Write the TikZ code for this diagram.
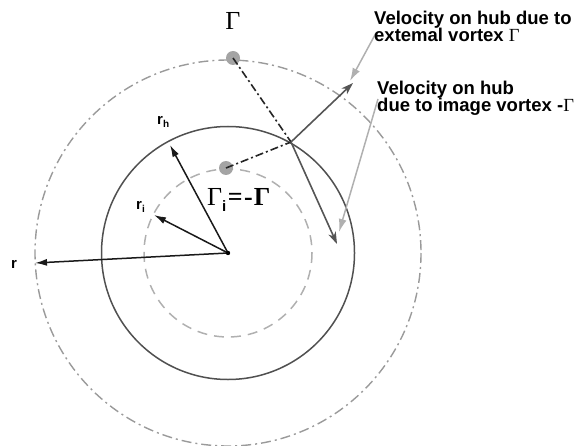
\documentclass[tikz,border=0pt]{standalone}
\usepackage{fontspec}
\setmainfont{Liberation Sans}
\newfontfamily\lserif{Liberation Serif}
\usetikzlibrary{arrows.meta}
\definecolor{hubgray}{HTML}{505050}
\definecolor{circgray}{HTML}{9A9A9A}
\definecolor{leadgray}{HTML}{B0B0B0}
\definecolor{velgray}{HTML}{555555}
\tikzset{
  outercirc/.style={draw=circgray, line width=1.4pt, dash pattern=on 10pt off 4pt on 2pt off 4pt},
  innercirc/.style={draw=leadgray, line width=1.5pt, dash pattern=on 10pt off 7pt},
  hubcirc/.style={draw=hubgray, line width=1.5pt},
  conline/.style={draw=black!85, line width=1.6pt, dash pattern=on 8pt off 3pt on 2pt off 3pt},
  radarrow/.style={draw=black!90, line width=1.5pt, -{Latex[length=12pt,width=7pt]}},
  velarrow/.style={draw=velgray, line width=1.6pt, -{Stealth[length=12pt,width=8pt,inset=3.5pt]}},
  leadarrow/.style={draw=leadgray, line width=1.5pt, -{Latex[length=13pt,width=8pt]}},
  vortex/.style={circle, fill=circgray!90, inner sep=0pt, minimum size=14pt},
  lab/.style={font=\bfseries\fontsize{18.5}{17.5}\selectfont, align=left, inner sep=0pt},
  rlab/.style={font=\bfseries\fontsize{15}{15}\selectfont, inner sep=0pt},
  glab/.style={font=\lserif\fontsize{26}{26}\selectfont, inner sep=0pt}
}
\begin{document}
\begin{tikzpicture}[x=1pt,y=-1pt]
\useasboundingbox (0,0) rectangle (577,446);
% geometry
\coordinate (O) at (228,253);
\coordinate (P) at (291,142);
\coordinate (rtip) at (35,263);
\coordinate (rhtip) at (170,145);
\coordinate (ritip) at (154,215);
\coordinate (v1tip) at (353,83);
\coordinate (v2tip) at (337,244);
\coordinate (l1start) at (376,33);
\coordinate (l1tip) at (350,81);
\coordinate (l2start) at (378,99);
\coordinate (l2tip) at (339,232);
% circles
\draw[outercirc] (O) circle (193);
\draw[innercirc] (O) circle (84);
\draw[hubcirc] (O) circle (126.5);
% vortices
\node[vortex] (G) at (233,58) {};
\node[vortex] (Gi) at (226,168) {};
% connector lines
\draw[conline] (G.center) -- (P);
\draw[conline] (Gi.center) -- (P);
% velocity arrows
\draw[velarrow] (P) -- (v1tip);
\draw[velarrow] (P) -- (v2tip);
% radius arrows
\draw[radarrow] (O) -- (rtip);
\draw[radarrow] (O) -- (rhtip);
\draw[radarrow] (O) -- (ritip);
\fill[black] (O) circle (2.2);
% leaders
\draw[leadarrow] (l1start) -- (l1tip);
\draw[leadarrow] (l2start) -- (l2tip);
% labels
\node[glab] (Glab) at (233,21) {Γ};
\node[anchor=base west, inner sep=0pt] (Gilab) at (207,205) {{\lserif\fontsize{26}{26}\selectfont Γ}\raisebox{-6pt}{\bfseries\fontsize{15}{15}\selectfont i}\kern1.5pt{\lserif\bfseries\fontsize{26}{26}\selectfont =\kern1.5pt-\kern1pt Γ}};
\node[rlab, anchor=base] (rlab) at (14,268) {r};
\node[anchor=base west, inner sep=0pt] (rhlab) at (157,125) {\bfseries\fontsize{15}{15}\selectfont r\raisebox{-3pt}{\fontsize{10}{10}\selectfont h}};
\node[anchor=base west, inner sep=0pt] (rilab) at (136,209) {\bfseries\fontsize{15}{15}\selectfont r\raisebox{-3pt}{\fontsize{10}{10}\selectfont i}};
\node[lab, anchor=base west] (lab1) at (374,42) {Velocity on hub due to\\extemal vortex {\lserif\mdseries Γ}};
\node[lab, anchor=base west] (lab2) at (377,112) {Velocity on hub\\due to image vortex -{\lserif\mdseries Γ}};
\end{tikzpicture}
\end{document}
